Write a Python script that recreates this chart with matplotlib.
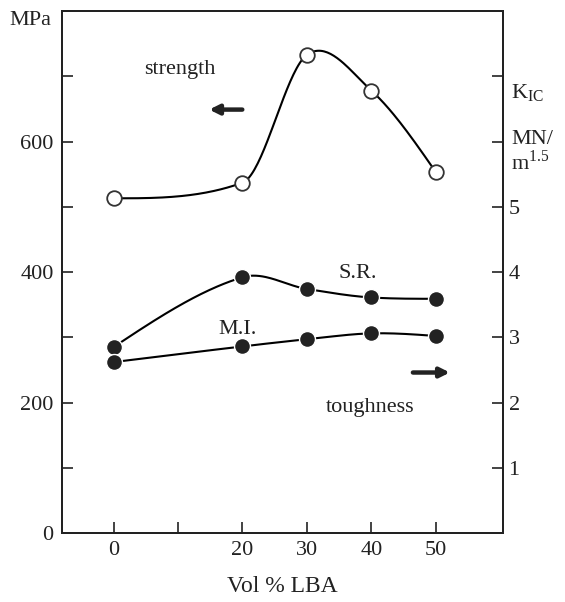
import numpy as np
import matplotlib.pyplot as plt

plt.rcParams['font.family'] = ['Liberation Serif', 'DejaVu Serif']

vol = [0, 20, 30, 40, 50]
strength = [513, 537, 733, 678, 553]      # MPa, left axis
kic_sr = [2.85, 3.92, 3.74, 3.61, 3.59]   # S.R., right axis
kic_mi = [2.62, 2.86, 2.97, 3.06, 3.02]   # M.I., right axis
xticks = [0, 10, 20, 30, 40, 50]
xticklabels = ['0', '', '20', '30', '40', '50']


def smooth(x, y, n=200):
    # Catmull-Rom style hermite curve, tangents clipped so flat parts don't dip
    x = np.asarray(x, float)
    y = np.asarray(y, float)
    d = np.diff(y) / np.diff(x)
    m = np.zeros(len(x))
    for i in range(1, len(x) - 1):
        m[i] = (y[i + 1] - y[i - 1]) / (x[i + 1] - x[i - 1])
        for dd in (d[i - 1], d[i]):
            if dd * m[i] > 0 and abs(m[i]) > 3 * abs(dd):
                m[i] = 3 * dd
    m[0] = (3 * d[0] - m[1]) / 2
    m[-1] = (3 * d[-1] - m[-2]) / 2
    xs = np.linspace(x[0], x[-1], n)
    j = np.clip(np.searchsorted(x, xs) - 1, 0, len(x) - 2)
    h = x[j + 1] - x[j]
    t = (xs - x[j]) / h
    ys = ((2 * t**3 - 3 * t**2 + 1) * y[j] + (t**3 - 2 * t**2 + t) * h * m[j]
          + (-2 * t**3 + 3 * t**2) * y[j + 1] + (t**3 - t**2) * h * m[j + 1])
    return xs, ys


fig = plt.figure(figsize=(5.65, 6.02), dpi=100)
ax = fig.add_axes([0.1097, 0.1146, 0.7805, 0.867])
ax2 = ax.twinx()

xs, ys = smooth(vol, strength)
ax.plot(xs, ys, color='black', lw=1.5)
ax.plot(vol, strength, 'o', ms=10.5, mfc='white', mec='#333333', mew=1.3)

for data in [kic_sr, kic_mi]:
    xs, ys = smooth(vol, data)
    ax2.plot(xs, ys, color='black', lw=1.5)
    ax2.plot(vol, data, 'o', ms=11.5, mfc='#222222', mec='white', mew=1.0)

ax.set_xlim(-8, 60.4)
ax.set_ylim(0, 800)
ax2.set_ylim(0, 8)

ax.set_xticks(xticks)
ax.set_xticklabels(xticklabels)
ax.set_yticks([0, 100, 200, 300, 400, 500, 600, 700])
ax.set_yticklabels(['0', '', '200', '', '400', '', '600', ''])
ax2.set_yticks([1, 2, 3, 4, 5, 6, 7])
ax2.set_yticklabels(['1', '2', '3', '4', '5', '', ''])

ax.tick_params(direction='in', length=8, width=1.2, labelsize=16, pad=6, colors='#222222')
ax2.tick_params(direction='in', length=8, width=1.2, labelsize=16, pad=4, colors='#222222')
for a in [ax, ax2]:
    for s in a.spines.values():
        s.set_linewidth(1.4)
        s.set_color('#222222')

ax.set_xlabel('Vol % LBA', fontsize=17, labelpad=11, color='#222222')

fig.text(0.053, 0.966, 'MPa', fontsize=16, ha='center', va='center', color='#222222')
ax.text(10.3, 710, 'strength', fontsize=16, ha='center', va='center', color='#222222')
ax.annotate('', xy=(14.4, 649), xytext=(20.4, 649),
            arrowprops=dict(arrowstyle='-|>', lw=3.2, color='#222222', mutation_scale=14))
ax.text(37.9, 398, 'S.R.', fontsize=16, ha='center', va='center', color='#222222')
ax.text(19.3, 312, 'M.I.', fontsize=16, ha='center', va='center', color='#222222')
ax.annotate('', xy=(52.6, 246), xytext=(46, 246),
            arrowprops=dict(arrowstyle='-|>', lw=3.2, color='#222222', mutation_scale=14))
ax.text(39.8, 192, 'toughness', fontsize=16, ha='center', va='center', color='#222222')

fig.text(0.905, 0.845, r'K$_{\mathregular{IC}}$', fontsize=16, ha='left', va='center', color='#222222')
fig.text(0.905, 0.768, 'MN/', fontsize=16, ha='left', va='center', color='#222222')
fig.text(0.905, 0.730, r'm$^{\mathregular{1.5}}$', fontsize=16, ha='left', va='center', color='#222222')

fig.savefig('out.png', dpi=100)
